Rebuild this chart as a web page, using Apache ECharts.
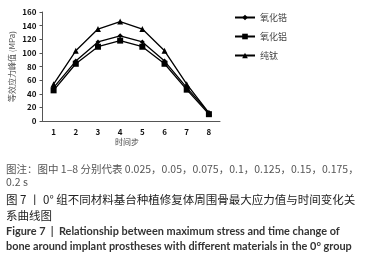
<!DOCTYPE html>
<html>
<head>
<meta charset="utf-8">
<script src="https://cdn.jsdelivr.net/npm/echarts@6/dist/echarts.min.js"></script>
<style>
html, body { margin: 0; padding: 0; background: #fff; }
#chart { width: 383px; height: 262px; }
</style>
</head>
<body>
<div id="chart"></div>
<script>
// 时间步
var steps = ['1', '2', '3', '4', '5', '6', '7', '8'];
// 等效应力峰值 (MPa)
var zirconia = [49, 88, 116, 125, 116, 88, 49, 12];
var alumina = [45, 84, 109, 118, 109, 84, 46, 10];
var titanium = [54, 103, 135, 146, 135, 103, 54, 12];
var yTicks = { min: 0, max: 160, interval: 20 };

var captions = [
    { text: '图注：图中 1–8 分别代表 0.025，0.05，0.075，0.1，0.125，0.15，0.175，', y: 170, size: 10.5, color: '#555', weight: 'normal' },
    { text: '0.2 s', y: 183, size: 10.5, color: '#555', weight: 'normal' },
    { text: '图 7 丨 0° 组不同材料基台种植修复体周围骨最大应力值与时间变化关', y: 201, size: 11.5, color: '#222', weight: 'normal' },
    { text: '系曲线图', y: 217, size: 11.5, color: '#222', weight: 'normal' },
    { text: 'Figure 7  |  Relationship between maximum stress and time change of', y: 233, size: 10.9, color: '#333', weight: 'bold' },
    { text: 'bone around implant prostheses with different materials in the 0° group', y: 248, size: 10.9, color: '#333', weight: 'bold' }
];

var font = '"Noto Sans CJK SC", "Noto Sans", sans-serif';

var myChart = echarts.init(document.getElementById('chart'));

var graphics = captions.map(function (c) {
    return {
        type: 'text',
        left: 6,
        top: c.y - c.size * 0.6,
        style: {
            text: c.text,
            fontSize: c.size,
            fontWeight: c.weight,
            fontFamily: c.weight === 'bold' ? 'Lato, "Noto Sans CJK SC", sans-serif' : font,
            fill: c.color
        }
    };
});
graphics.push({
    type: 'text',
    left: 115,
    top: 138,
    style: { text: '时间步', fontSize: 8, fontFamily: font, fill: '#444' }
});

function line(name, data, symbol, size) {
    return {
        name: name,
        type: 'line',
        data: data,
        symbol: symbol,
        symbolSize: size,
        showAllSymbol: true,
        lineStyle: { color: '#000', width: 1.3 },
        itemStyle: { color: '#000' }
    };
}

var option = {
    animation: false,
    backgroundColor: '#fff',
    textStyle: { fontFamily: font },
    grid: { left: 42.5, right: 163, top: 12, bottom: 141 },
    legend: {
        orient: 'vertical',
        left: 229,
        top: 8,
        itemWidth: 20,
        itemHeight: 7,
        itemGap: 10,
        textStyle: { fontSize: 9, color: '#444' },
        data: ['氧化锆', '氧化铝', '纯钛']
    },
    xAxis: {
        type: 'category',
        data: steps,
        boundaryGap: true,
        axisLine: { lineStyle: { color: '#555', width: 1 } },
        axisTick: { inside: true, length: 4, lineStyle: { color: '#555' } },
        axisLabel: { fontSize: 8, fontWeight: 'bold', color: '#111', margin: 7 }
    },
    yAxis: {
        type: 'value',
        min: yTicks.min,
        max: yTicks.max,
        interval: yTicks.interval,
        name: '等效应力峰值 (MPa)',
        nameLocation: 'middle',
        nameGap: 27,
        nameTextStyle: { fontSize: 8, color: '#555' },
        splitLine: { show: false },
        axisLine: { show: true, lineStyle: { color: '#555', width: 1 } },
        axisTick: { show: true, length: 3, lineStyle: { color: '#555' } },
        axisLabel: { fontSize: 8, fontWeight: 'bold', color: '#111', margin: 6 }
    },
    graphic: graphics,
    series: [
        line('氧化锆', zirconia, 'diamond', 5),
        line('氧化铝', alumina, 'rect', 6),
        line('纯钛', titanium, 'triangle', 6)
    ]
};

myChart.setOption(option);
</script>
</body>
</html>
